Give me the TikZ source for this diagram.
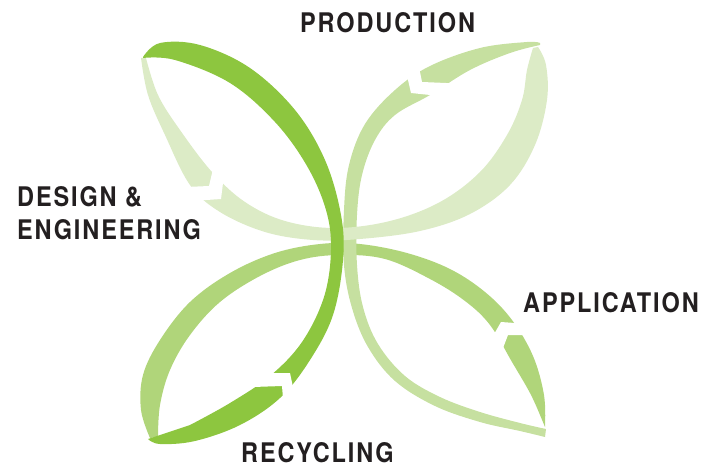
\documentclass[tikz,border=0pt]{standalone}
\usepackage{fontspec}
\newfontfamily\lblfont{TeX Gyre Heros}[FakeStretch=0.87,LetterSpace=7]
\definecolor{gDark}{HTML}{8DC63F}
\definecolor{gMed}{HTML}{B0D57A}
\definecolor{gLight}{HTML}{C6E0A0}
\definecolor{gVlight}{HTML}{DCEBC6}
\definecolor{txt}{HTML}{231F20}
\begin{document}
\begin{tikzpicture}[x=1pt,y=-1pt,
  lbl/.style={font=\lblfont\bfseries\fontsize{27}{32}\selectfont, text=txt, inner sep=0pt, anchor=base west},
  gap/.style={fill=white},
  sm/.style={smooth,tension=0.6}]
\useasboundingbox (0,0) rectangle (707,468);

% medium ribbon: bottom-left tip -> centre (lower horizontal) -> bottom-right tip
\fill[gMed] plot[sm] coordinates {(150,438) (141,410) (143,375) (160,340) (190,302) (230,273) (275,253) (320,244) (360,244) (407,253) (450,269) (485,292) (512,320) (533,356) (544,395) (545,427)}
  -- plot[sm] coordinates {(540,415) (530,393) (512,362) (490,325) (465,301) (430,279) (385,259) (340,255) (300,260) (260,276) (220,302) (190,335) (170,370) (160,405) (158,437)} -- cycle;

% light ribbon: top-right tip -> centre (right vertical) -> bottom-right tip
\fill[gLight] plot[sm] coordinates {(540,43) (527,42) (480,48) (430,66) (395,90) (365,124) (349,165) (344,210) (344,265) (352,308) (368,347) (395,381) (435,406) (480,422) (520,431) (545,437)}
  -- plot[sm] coordinates {(546,429) (520,423) (480,412) (440,397) (405,376) (378,344) (363,307) (357,265) (357,215) (362,175) (375,140) (395,115) (430,95) (470,70) (510,53) (540,45)} -- cycle;

% very light ribbon: top-left tip -> centre (upper horizontal) -> top-right tip
\fill[gVlight] plot[sm] coordinates {(141,58) (148,95) (165,135) (190,185) (220,212) (265,232) (313,240) (360,239) (420,231) (470,214) (510,185) (535,145) (547,100) (546,65) (538,47)}
  -- plot[sm] coordinates {(533,48) (527,70) (522,100) (507,135) (480,172) (440,202) (390,221) (335,228) (285,221) (245,202) (212,172) (180,130) (158,95) (146,58)} -- cycle;

% dark ribbon: top-left tip -> centre (left vertical) -> bottom-left tip
\fill[gDark] plot[sm] coordinates {(143,57) (160,43) (200,45) (250,68) (295,110) (325,160) (341,215) (343,260) (333,315) (310,360) (280,398) (240,425) (195,441) (160,444) (148,439)}
  -- plot[sm] coordinates {(190,425) (230,403) (270,376) (302,342) (324,297) (331,250) (326,210) (307,166) (275,122) (230,83) (175,60) (143,58)} -- cycle;

% arrow gaps
\fill[gap] (213,169) -- (209,186) -- (186,187) -- (199,200.5) -- (221,199) -- (223.5,179) -- cycle;
\fill[gap] (407.3,77) -- (411,93) -- (434,95.4) -- (451,83.2) -- (422,82) -- (419.4,69) -- cycle;
\fill[gap] (490.6,340.2) -- (501,322) -- (519,323.3) -- (526,335) -- (508,335) -- (501.5,352) -- cycle;
\fill[gap] (268,373) -- (290,373) -- (294,392) -- (283.3,402) -- (282,386) -- (253,387) -- cycle;

% labels
\node[lbl] (prod) at (300,33) {PRODUCTION};
\node[lbl] (des) at (17,207) {DESIGN \&};
\node[lbl] (eng) at (17,239) {ENGINEERING};
\node[lbl] (app) at (523,312) {APPLICATION};
\node[lbl] (rec) at (241,462) {RECYCLING};
\end{tikzpicture}
\end{document}
